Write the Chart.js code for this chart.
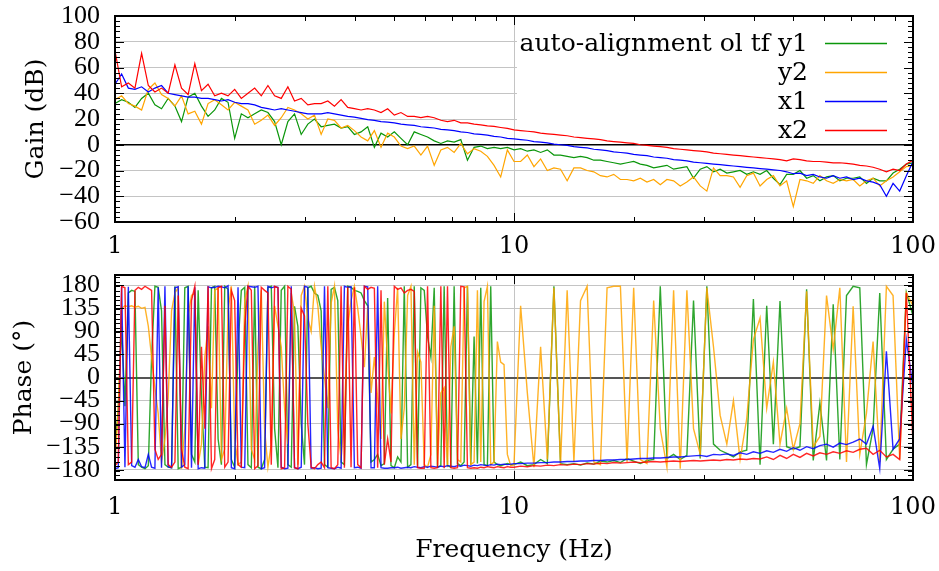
<!DOCTYPE html>
<html><head><meta charset="utf-8">
<script src="https://cdn.jsdelivr.net/npm/chart.js@4/dist/chart.umd.min.js"></script>
<style>
html,body{margin:0;padding:0;background:#fff;}
#wrap{position:relative;width:939px;height:571px;background:#fff;}
#gain{position:absolute;left:0;top:0;}
#phase{position:absolute;left:0;top:262px;}
</style></head><body>
<div id="wrap"><canvas id="gain" width="939" height="262"></canvas><canvas id="phase" width="939" height="309"></canvas></div>
<script>
// ---------- data ----------
const freq = [1,1.039,1.080,1.122,1.166,1.212,1.259,1.308,1.359,1.413,1.468,1.525,1.585,1.647,1.711,1.778,1.848,1.920,1.995,2.073,
2.154,2.239,2.326,2.417,2.512,2.610,2.712,2.818,2.929,3.043,3.162,3.286,3.415,3.548,3.687,3.831,3.981,4.137,4.299,4.467,
4.642,4.823,5.012,5.208,5.412,5.623,5.843,6.072,6.310,6.556,6.813,7.079,7.356,7.644,7.943,8.254,8.577,8.913,9.261,9.624,
10,10.39,10.80,11.22,11.66,12.12,12.59,13.08,13.59,14.13,14.68,15.25,15.85,16.47,17.11,17.78,18.48,19.20,19.95,20.73,
21.54,22.39,23.26,24.17,25.12,26.10,27.12,28.18,29.29,30.43,31.62,32.86,34.15,35.48,36.87,38.31,39.81,41.37,42.99,44.67,
46.42,48.23,50.12,52.08,54.12,56.23,58.43,60.72,63.10,65.56,68.13,70.79,73.56,76.44,79.43,82.54,85.77,89.13,92.61,96.24,100];

const phaseFreq = [1,1.019,1.039,1.059,1.080,1.101,1.122,1.144,1.166,1.189,1.212,1.235,1.259,1.283,1.308,1.334,1.359,1.386,1.413,1.440,
1.468,1.496,1.525,1.555,1.585,1.616,1.647,1.679,1.711,1.745,1.778,1.813,1.848,1.884,1.920,1.957,1.995,2.034,2.073,2.114,
2.154,2.196,2.239,2.282,2.326,2.371,2.417,2.464,2.512,2.561,2.610,2.661,2.712,2.765,2.818,2.873,2.929,2.985,3.043,3.102,
3.162,3.224,3.286,3.350,3.415,3.481,3.548,3.617,3.687,3.758,3.831,3.905,3.981,4.058,4.137,4.217,4.299,4.382,4.467,4.553,
4.642,4.732,4.823,4.917,5.012,5.109,5.208,5.309,5.412,5.517,5.623,5.732,5.843,5.957,6.072,6.190,6.310,6.432,6.556,6.683,
6.813,6.945,7.079,7.217,7.356,7.499,7.644,7.792,7.943,8.097,8.254,8.414,8.577,8.743,8.913,9.085,9.261,9.441,9.624,9.810,
10,10.39,10.80,11.22,11.66,12.12,12.59,13.08,13.59,14.13,14.68,15.25,15.85,16.47,17.11,17.78,18.48,19.20,19.95,20.73,
21.54,22.39,23.26,24.17,25.12,26.10,27.12,28.18,29.29,30.43,31.62,32.86,34.15,35.48,36.87,38.31,39.81,41.37,42.99,44.67,
46.42,48.23,50.12,52.08,54.12,56.23,58.43,60.72,63.10,65.56,68.13,70.79,73.56,76.44,79.43,82.54,85.77,89.13,92.61,96.24,100];

const seriesNames = ['y1','y2','x1','x2'];
const legendTitle = 'auto-alignment ol tf';

const gainY1 = [32,35,33,29,36,40,31,28,36,30,18,37,40,30,22,27,36,33,5,24,21,24,27,25,18,0,18,24,8,16,20,14,
15,16,13,14,8,10,14,-2,9,6,10,5,0,10,8,6,3,1,3,2,4,-12,-2,-1,-3,-2,-3,-2,-4,
-3,-5,-4,-6,-4,-8,-8,-9,-10,-9,-10,-12,-12,-13,-14,-15,-14,-13,-15,-16,-18,-17,-16,-19,-18,-17,-26,-19,-17,-21,-19,
-22,-21,-20,-23,-21,-23,-20,-26,-31,-23,-23,-20,-26,-24,-28,-25,-24,-28,-26,-26,-25,-30,-26,-28,-28,-22,-19,-15,-14];
const gainY2 = [35,38,32,30,27,43,48,39,36,30,38,24,26,16,32,35,31,27,33,30,27,16,19,23,15,21,29,27,24,20,23,8,
20,19,13,15,11,6,3,11,-2,9,6,-1,-3,-1,-8,-1,-16,-4,-2,-6,1,-7,-3,-5,-9,-16,-25,-4,-13,
-13,-8,-17,-11,-20,-18,-19,-28,-18,-18,-20,-21,-24,-25,-23,-27,-27,-28,-26,-29,-27,-31,-27,-28,-32,-29,-25,-32,-36,-18,-24,
-24,-25,-33,-24,-22,-32,-27,-24,-32,-28,-48,-27,-28,-30,-24,-28,-30,-27,-28,-27,-32,-28,-26,-32,-28,-25,-21,-17,-16];
const gainX1 = [47,55,44,43,45,41,44,46,40,39,38,37,37,36,36,35,34,35,33,32,32,31,29,28,27,28,27,26,25,24,24,24,
25,24,23,22,21.5,20.5,19.5,19,18,17.5,17,16,15.5,15,14,13.5,13,12,11.5,11,10,9.5,8.5,8,7.5,6.5,6,5,4.5,
4,3.5,2.5,2,1.5,0.5,0,-0.5,-1.5,-2,-2.5,-3.5,-4,-4.5,-5.5,-6,-6.5,-7.5,-8,-8.5,-9.5,-10,-10.5,-11.5,-12,-12.5,-13.5,-14,-14.5,-15,-15.5,
-16,-16.5,-17,-17.5,-18,-18.5,-19,-19.5,-20,-21,-22.5,-22,-24,-23,-25,-26,-24,-26,-25,-27,-26,-28,-29,-31,-40,-30,-36,-24,-13];
const gainX2 = [73,45,48,44,71,46,41,44,40,62,44,39,63,42,47,38,40,38,43,36,40,44,38,46,38,36,45,34,36,31,32,32,
34,30,35,29,28,27,28,27,25,28,23,25,22,22,21,22,21,19,18,19,17,17,16,15.5,14.7,14.2,13.4,12.7,11.6,
11,10.5,10,9,8.5,8,7.5,7,6,5.5,5,4.5,4,3,2.5,2,1.5,1,0,-0.5,-1,-1.5,-2,-3,-3.5,-4,-4.5,-5,-5.5,-6.5,-7,
-7.5,-8,-8.5,-9,-9.5,-10,-10.5,-11,-11.5,-12.5,-11,-11.5,-12.5,-13,-13,-13.5,-14,-14,-14.5,-15,-16,-16.5,-17.5,-19,-21,-19,-20,-15,-12];

const phaseY1 = [-140,-60,100,-56,165,170,168,-170,-175,-178,
-172,40,178,176,130,-170,-175,-176,178,-178,
-175,175,178,-150,-165,170,-40,-175,-176,175,
178,-120,-170,178,172,-160,-175,60,170,176,
-170,-176,178,-175,-178,-160,175,178,-100,-176,
170,178,-170,-175,139,100,-90,-170,175,178,
165,160,130,-170,-175,172,176,150,-165,-170,
178,176,170,168,165,150,140,-165,-160,-150,
-172,-168,155,-172,-176,-155,-165,178,-175,-170,
178,-172,175,170,80,40,175,-175,-172,178,
-172,-175,178,-168,-172,-165,178,-170,80,-168,
175,-170,-172,178,-165,-170,-172,-170,-168,-170,
-170,-165,-172,-170,-160,-168,178,-168,-170,-168,-171,-167,-169,
-163,-165,-162,-166,-158,-163,-168,-162,-160,178,-158,-150,-160,-152,150,-158,178,-130,-142,-148,-155,-145,-142,153,-170,140,-130,149,-135,-140,-135,172,-162,-50,-162,143,-160,160,178,175,-170,-100,165,-160,-140,-130,166,120];
const phaseY2 = [-170,-60,135,140,138,140,137,139,135,137,
100,40,-20,-70,-165,-120,-40,130,165,175,
-178,-100,120,160,165,-170,-130,40,100,-60,
170,175,-160,-140,130,178,-120,-170,-165,150,
178,-140,-160,60,170,-100,-175,-130,140,100,
60,-60,-130,165,125,-170,160,178,115,90,
178,140,60,0,-60,145,178,-100,-160,-70,
100,150,178,135,80,20,140,-30,40,-40,
-120,148,30,-70,85,175,-120,-60,160,178,
-170,50,30,-170,-175,-150,140,-170,-30,-20,
-175,60,100,-160,-165,175,178,-170,-165,170,
-165,148,178,-170,-165,70,30,25,-150,-172,
-170,140,-30,-175,60,-160,175,-170,170,-165,150,178,-165,-170,175,178,
178,-165,175,-160,-168,150,-100,-175,170,-178,170,-100,-150,175,60,-74,-130,-45,-160,-80,74,116,-60,30,-130,-60,-140,-90,168,-135,-115,160,55,175,-165,139,-150,-70,70,-165,178,160,-160,165,140];
const phaseX1 = [-178,-176,178,-175,177,-172,-175,-160,-174,-176,
-150,-175,-177,176,-176,178,-174,-176,175,177,
-175,-170,178,-176,176,-178,-176,-177,177,175,
176,178,177,175,179,-176,-178,176,-175,-176,
178,177,176,178,-178,-176,178,175,177,176,
-175,-178,-177,178,-176,-178,-175,178,176,-177,
-176,-178,-177,178,-176,-177,-178,-175,-177,178,
176,177,-176,-175,-177,178,177,-176,-176,178,
-176,-177,-177,-176,-176,-175,-177,-176,-175,-176,
-174,-175,-176,-174,-175,-173,-174,-175,-173,-174,
-172,-173,-174,-172,-173,-171,-172,-173,-171,-172,
-170,-171,-172,-170,-171,-169,-170,-169,-170,-169,
-168,-168,-167,-167,-166,-166,-165,-165,-164,-164,-163,-163,-162,-162,-161,-161,-160,-160,-159,-158,-158,
-157,-157,-156,-155,-155,-154,-153,-152,-154,-150,-151,-149,-152,-147,-150,-145,-148,-143,-146,-140,
-144,-137,-142,-135,-139,-133,-130,-136,-128,-131,-126,-120,-130,-95,-178,51,-140,-120,74,-20];
const phaseX2 = [-172,-165,178,175,-170,-165,170,176,172,178,
174,170,-140,-160,-150,140,-170,-175,-165,160,
-140,-175,-178,150,178,-170,60,-100,178,-178,
-160,175,178,-175,-165,170,150,-170,-175,100,
178,170,-178,-172,176,170,165,-170,178,175,
-178,-176,178,172,-176,-178,135,120,-90,-175,
-178,-170,-165,-176,178,-176,-178,-170,178,-176,
176,-175,176,-170,-176,178,172,176,174,-176,
170,-170,-120,-165,178,172,175,165,170,172,
168,-176,-177,-177,178,-176,-177,-176,178,-177,
178,-176,-177,-176,178,177,-176,-177,-176,-177,
-175,-176,-174,-175,-176,-174,-175,-176,-174,-175,
-175,-173,-174,-172,-173,-171,-172,-170,-171,-169,-170,-168,-169,-167,
-168,-166,-167,-166,-165,-166,-165,-164,-165,-164,-163,-164,-163,-162,-163,-162,-161,-162,-160,-161,
-159,-160,-158,-159,-155,-160,-152,-158,-150,-156,-148,-153,-147,-150,-145,-148,-143,-146,-140,-138,
-150,-142,-155,-150,-160,165,-130];

const freqTicks = [1,10,100];
const freqMinorTicks = [2,3,4,5,6,7,8,9,20,30,40,50,60,70,80,90];
const gainTicks = [-60,-40,-20,0,20,40,60,80,100];
const phaseTicks = [-180,-135,-90,-45,0,45,90,135,180];

// ---------- styles ----------
const colors = ['rgb(10,150,10)','rgb(255,165,0)','rgb(0,0,255)','rgb(255,0,0)'];
const phaseColors = ['rgba(10,150,10,0.85)','rgba(255,165,0,0.85)','rgba(0,0,255,0.85)','rgba(255,0,0,0.85)'];
const SERIF = 'DejaVu Serif';
const NUMFONT = 'Liberation Serif';
const GRID = '#c4c4c4';

function mkData(xs, values){ return xs.map((f,i)=>({x:f,y:values[i]})); }
function mkDatasets(xs, list, cols, w){
  return list.map((vals,i)=>({label:seriesNames[i], data:mkData(xs, vals), borderColor:cols[i], backgroundColor:cols[i],
    borderWidth:w, pointRadius:0, tension:0, fill:false, order:4-i}));
}
const minusFmt = v => String(v).replace('-','\u2212');
function zeroPad(sc){ sc.paddingTop=0; sc.paddingBottom=0; sc.paddingLeft=0; sc.paddingRight=0; }

function framePlugin(minorStep){
  return {
    id:'frame',
    afterDatasetsDraw(chart){
      const {ctx, chartArea:a, scales:{x,y}} = chart;
      ctx.save();
      ctx.strokeStyle='#000'; ctx.lineWidth=1;
      const seg=(x1,y1,x2,y2)=>{ctx.beginPath();ctx.moveTo(x1,y1);ctx.lineTo(x2,y2);ctx.stroke();};
      freqTicks.forEach(v=>{const p=Math.round(x.getPixelForValue(v))+0.5; seg(p,a.bottom,p,a.bottom-9); seg(p,a.top,p,a.top+9);});
      freqMinorTicks.forEach(v=>{const p=Math.round(x.getPixelForValue(v))+0.5; seg(p,a.bottom,p,a.bottom-5); seg(p,a.top,p,a.top+5);});
      y.ticks.forEach(t=>{const p=Math.round(y.getPixelForValue(t.value))+0.5; seg(a.left,p,a.left+9,p); seg(a.right,p,a.right-9,p);});
      for(let v=y.min; v<=y.max+1e-9; v+=minorStep){
        const p=Math.round(y.getPixelForValue(v))+0.5; seg(a.left,p,a.left+5,p); seg(a.right,p,a.right-5,p);
      }
      ctx.lineWidth=2;
      ctx.strokeRect(a.left,a.top,a.right-a.left,a.bottom-a.top);
      ctx.restore();
    }
  };
}

const legendPlugin = {
  id:'gplegend',
  beforeDatasetsDraw(chart){
    const {ctx, chartArea:a, scales:{x,y}} = chart;
    const l = x.getPixelForValue(10)+3, b = y.getPixelForValue(0)-2;
    ctx.save(); ctx.fillStyle='#fff'; ctx.fillRect(l,a.top+1,a.right-l,b-a.top-1); ctx.restore();
  },
  afterDraw(chart){
    const {ctx, chartArea:a} = chart;
    ctx.save();
    ctx.font = '25px "'+SERIF+'"';
    ctx.textAlign='right'; ctx.textBaseline='middle'; ctx.fillStyle='#000';
    chart.data.datasets.forEach((ds,i)=>{
      const yy = a.top + 27 + 29.1*i;
      const txt = i===0 ? legendTitle+' '+ds.label : ds.label;
      ctx.fillText(txt, a.right-105, yy+1);
      ctx.strokeStyle = ds.borderColor; ctx.lineWidth = 1.4;
      ctx.beginPath(); ctx.moveTo(a.right-88, Math.round(yy)+0.5); ctx.lineTo(a.right-26, Math.round(yy)+0.5); ctx.stroke();
    });
    ctx.restore();
  }
};

function xScale(height, pad, withTitle){
  const s = {
    type:'logarithmic', min:1, max:100,
    afterBuildTicks: sc => { sc.ticks = freqTicks.map(v=>({value:v})); },
    afterFit: sc => { sc.height = height; zeroPad(sc); },
    ticks:{autoSkip:false, maxRotation:0, minRotation:0, padding:pad, color:'#000',
      font:{family:SERIF, size:24}, callback: v => String(v)},
    grid:{drawTicks:false, color: c => (c.tick && c.tick.value===10) ? GRID : 'rgba(0,0,0,0)', lineWidth:1},
    border:{display:false}
  };
  if(withTitle){
    s.title = {display:true, text:'Frequency (Hz)', color:'#000', font:{family:SERIF, size:25}, padding:{top:0, bottom:6}};
  }
  return s;
}
function yScale(min,max,tickVals,title,titlePad,zeroColor,zeroWidth){
  return {
    type:'linear', min:min, max:max,
    afterBuildTicks: sc => { sc.ticks = tickVals.map(v=>({value:v})); },
    afterFit: sc => { sc.width = 115; zeroPad(sc); },
    ticks:{autoSkip:false, padding:15, color:'#000', font:{family:NUMFONT, size:26}, callback: minusFmt},
    grid:{drawTicks:false, color: c => (c.tick && c.tick.value===0) ? zeroColor : GRID,
      lineWidth: c => (c.tick && c.tick.value===0) ? zeroWidth : 1},
    border:{display:false},
    title:{display:true, text:title, color:'#000', font:{family:SERIF, size:25}, padding:{top:titlePad, bottom:0}}
  };
}

const common = {responsive:false, animation:false, events:[],
  plugins:{legend:{display:false}, tooltip:{enabled:false}}};

new Chart(document.getElementById('gain'), {
  type:'line',
  data:{datasets: mkDatasets(freq, [gainY1,gainY2,gainX1,gainX2], colors, 1.2)},
  options:Object.assign({}, common, {
    layout:{padding:{left:0,right:26,top:16,bottom:0}},
    scales:{ x:xScale(40, 10, false), y:yScale(-60,100,gainTicks,'Gain (dB)',21,'#000',1.5) }
  }),
  plugins:[legendPlugin, framePlugin(4)]
});

new Chart(document.getElementById('phase'), {
  type:'line',
  data:{datasets: mkDatasets(phaseFreq, [phaseY1,phaseY2,phaseX1,phaseX2], phaseColors, 1.4)},
  options:Object.assign({}, common, {
    layout:{padding:{left:0,right:26,top:13,bottom:0}},
    scales:{ x:xScale(91, 13.5, true), y:yScale(-200,200,phaseTicks,'Phase (\u00b0)',9,'#555',2) }
  }),
  plugins:[framePlugin(9)]
});
</script>
</body></html>
